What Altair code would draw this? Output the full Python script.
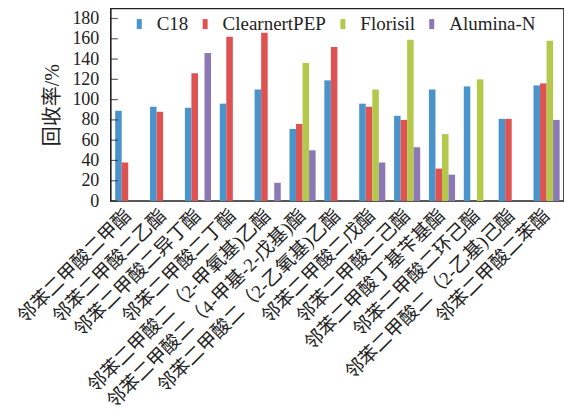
import altair as alt
import pandas as pd

compounds = [
    "邻苯二甲酸二甲酯",
    "邻苯二甲酸二乙酯",
    "邻苯二甲酸二异丁酯",
    "邻苯二甲酸二丁酯",
    "邻苯二甲酸二（2-甲氧基)乙酯",
    "邻苯二甲酸二（4-甲基-2-戊基)酯",
    "邻苯二甲酸二（2-乙氧基)乙酯",
    "邻苯二甲酸二戊酯",
    "邻苯二甲酸二己酯",
    "邻苯二甲酸丁基苄基酯",
    "邻苯二甲酸二环己酯",
    "邻苯二甲酸二（2-乙基)己酯",
    "邻苯二甲酸二苯酯",
]
series = ["C18", "ClearnertPEP", "Florisil", "Alumina-N"]
colors = ["#4a94cc", "#de5252", "#b4c84c", "#8c78b4"]

c18 = [89, 93, 92, 96, 110, 71, 119, 96, 84, 110, 113, 81, 114]
pep = [38, 88, 126, 162, 166, 76, 152, 93, 80, 32, 0, 81, 116]
florisil = [0, 0, 0, 0, 0, 136, 0, 110, 159, 66, 120, 0, 158]
alumina = [0, 0, 146, 0, 18, 50, 0, 38, 53, 26, 0, 0, 80]

y_ticks = [0, 20, 40, 60, 80, 100, 120, 140, 160, 180]

rows = []
for name, vals in zip(series, [c18, pep, florisil, alumina]):
    for comp, v in zip(compounds, vals):
        rows.append({"compound": comp, "series": name, "value": v})
df = pd.DataFrame(rows)
ticks_df = pd.DataFrame({"t": y_ticks})

FONT = "Liberation Serif, Noto Sans CJK SC"

y_scale = alt.Scale(domain=[0, 190], nice=False)
y_axis = alt.Axis(
    title="回收率/%",
    titleFont=FONT,
    titleFontSize=20,
    titleFontWeight="normal",
    titleColor="#222222",
    titlePadding=9,
    values=y_ticks,
    labelFont=FONT,
    labelFontSize=18,
    labelColor="#222222",
    labelOverlap=False,
    ticks=False,
    domain=False,
    grid=False,
    labelPadding=12,
)

bars = alt.Chart(df).mark_bar().encode(
    x=alt.X(
        "compound:N",
        sort=compounds,
        scale=alt.Scale(paddingInner=0.25, paddingOuter=0.125),
        axis=alt.Axis(
            title=None,
            labelAngle=-45,
            labelAlign="right",
            labelBaseline="middle",
            labelFontSize=19,
            labelFont=FONT,
            labelColor="#222222",
            ticks=False,
            domain=False,
            labelPadding=11,
            labelLimit=400,
            labelOverlap=False,
        ),
    ),
    xOffset=alt.XOffset("series:N", sort=series, scale=alt.Scale(paddingInner=0)),
    y=alt.Y("value:Q", scale=y_scale, axis=y_axis, title="回收率/%"),
    color=alt.Color(
        "series:N",
        sort=series,
        scale=alt.Scale(domain=series, range=colors),
        legend=alt.Legend(
            title=None,
            orient="none",
            direction="horizontal",
            legendX=19,
            legendY=6,
            symbolType="M-0.5,-1H0.5V1H-0.5Z",
            symbolSize=100,
            symbolStrokeWidth=0,
            labelFont=FONT,
            labelFontSize=19,
            labelColor="#222222",
            columnPadding=7,
            labelOffset=8,
        ),
    ),
)

tick_marks = alt.Chart(ticks_df).mark_tick(color="#222222", thickness=1.2, size=7).encode(
    y=alt.Y("t:Q", scale=y_scale, axis=y_axis, title="回收率/%"),
    x=alt.value(3.5),
)

chart = alt.layer(bars, tick_marks).properties(
    width=454,
    height=193,
    padding={"left": 6, "top": 0, "right": 0, "bottom": 0},
).configure_view(stroke="#222222", strokeWidth=1.6)

chart.save("out.html", embed_options={"renderer": "svg", "actions": False})
